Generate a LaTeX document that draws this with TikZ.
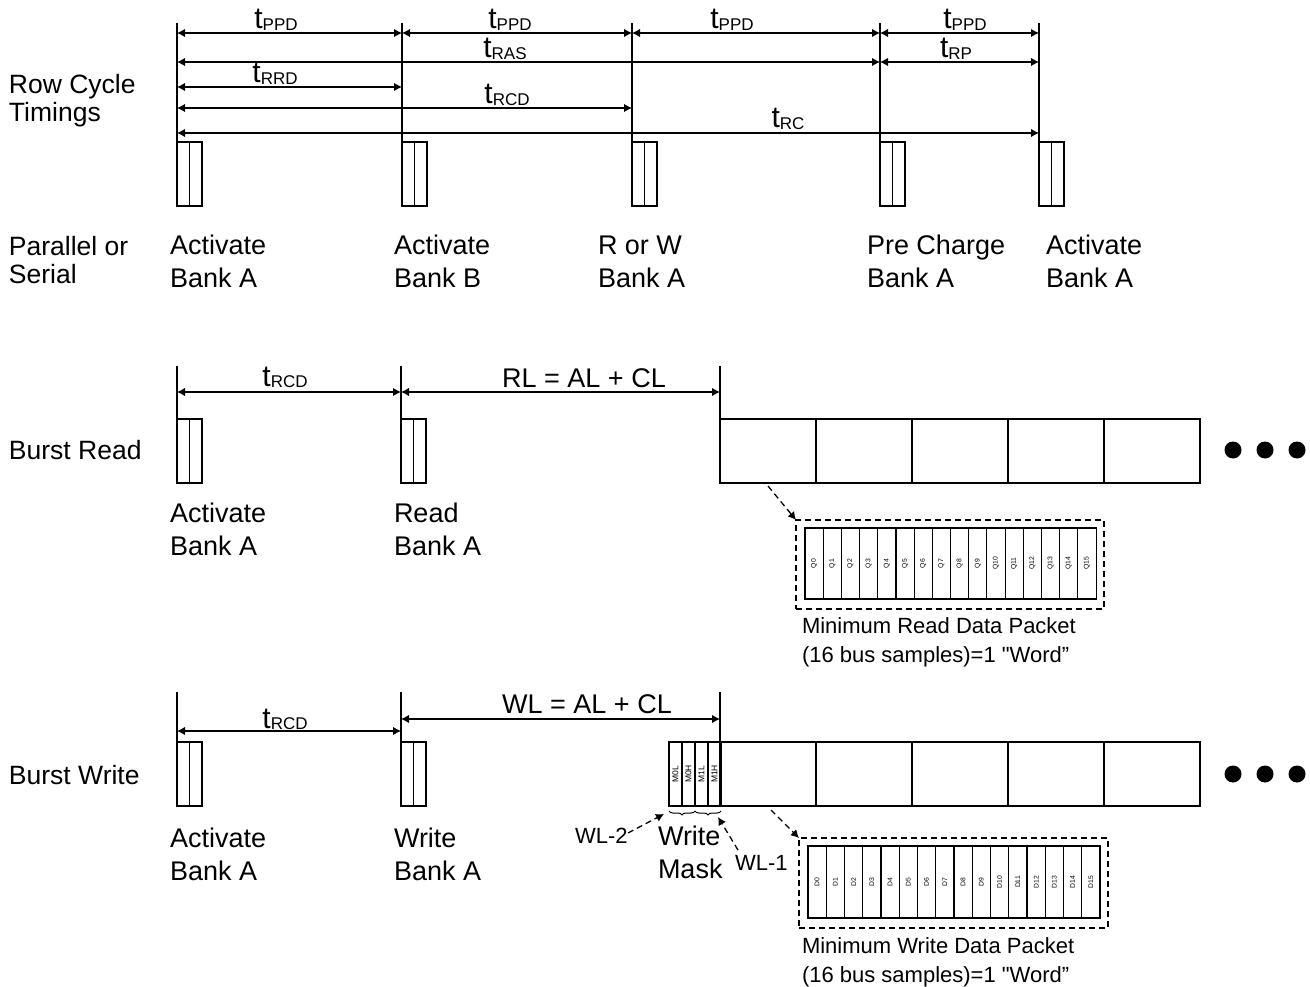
\documentclass[tikz,border=0pt]{standalone}
\usepackage{fontspec}
\setmainfont{Liberation Sans}
\newfontfamily\qf{Liberation Sans}
\usetikzlibrary{arrows.meta,decorations.pathreplacing}
\newcommand{\tsb}[1]{{\fontsize{30}{30}\selectfont t}\raisebox{-1.5pt}{\fontsize{17}{17}\selectfont #1}}
\newcommand{\sq}{{\qf"}}
\begin{document}
\begin{tikzpicture}[x=1pt,y=-1pt,
 every node/.style={inner sep=0pt,outer sep=0pt},
 biglab/.style={font=\fontsize{27}{33}\selectfont, align=left, anchor=north west},
 sidelab/.style={font=\fontsize{26.5}{28}\selectfont, align=left, anchor=north west},
 tlab/.style={font=\fontsize{27}{27}\selectfont, anchor=base},
 captlab/.style={font=\fontsize{22}{29}\selectfont, align=left, anchor=north west},
 smalllab/.style={font=\fontsize{22}{22}\selectfont, anchor=base west},
 vl/.style={line width=1.2pt},
 dim/.style={line width=1.2pt,{Latex[length=8pt,width=8.5pt]}-{Latex[length=8pt,width=8.5pt]}},
 cmdbox/.style={draw,line width=1.2pt,minimum width=25pt,minimum height=64pt,anchor=north west},
 databox/.style={draw,line width=1.2pt,minimum width=96pt,minimum height=64pt,anchor=north west},
 maskcell/.style={draw,line width=1.2pt,minimum width=13pt,minimum height=64pt,anchor=north west},
 pktcell/.style={draw,line width=1.1pt,anchor=north west},
 pktframe/.style={draw,line width=1.3pt,dash pattern=on 6pt off 4pt,anchor=north west},
 darrow/.style={line width=1.3pt,dash pattern=on 6pt off 4pt,-{Latex[length=8pt,width=8.5pt]}},
 celltxt/.style={rotate=90,font=\fontsize{6.8}{6.8}\selectfont},
 masktxt/.style={rotate=90,font=\fontsize{8.5}{8.5}\selectfont},
 blackdot/.style={circle,fill=black,minimum size=17pt},
]
\useasboundingbox (0,0) rectangle (1310,987);

% ================= Row cycle timings =================
\node[sidelab] (rct) at (9,74) {Row Cycle\\Timings};
\node[sidelab] (pos) at (9,236) {Parallel or\\Serial};

\foreach \n/\x in {1/177,2/402,3/632,4/880,5/1039}{
  \coordinate (v\n) at (\x,23);
  \node[cmdbox] (c\n) at (\x,142) {};
  \draw[vl] (c\n.north) -- (c\n.south);
  \draw[vl] (v\n) -- (c\n.north west);
}

\draw[dim] (v1 |- 0,33) -- (v2 |- 0,33);
\draw[dim] (v2 |- 0,33) -- (v3 |- 0,33);
\draw[dim] (v3 |- 0,33) -- (v4 |- 0,33);
\draw[dim] (v4 |- 0,33) -- (v5 |- 0,33);
\draw[dim] (v1 |- 0,62) -- (v4 |- 0,62);
\draw[dim] (v4 |- 0,62) -- (v5 |- 0,62);
\draw[dim] (v1 |- 0,87) -- (v2 |- 0,87);
\draw[dim] (v1 |- 0,108) -- (v3 |- 0,108);
\draw[dim] (v1 |- 0,133) -- (v5 |- 0,133);

\node[tlab] (tp1) at (276,29) {\tsb{PPD}};
\node[tlab] (tp2) at (510,29) {\tsb{PPD}};
\node[tlab] (tp3) at (732,29) {\tsb{PPD}};
\node[tlab] (tp4) at (965,29) {\tsb{PPD}};
\node[tlab] (tras) at (505,58) {\tsb{RAS}};
\node[tlab] (trp) at (956,58) {\tsb{RP}};
\node[tlab] (trrd) at (275,83) {\tsb{RRD}};
\node[tlab] (trcd) at (507,104) {\tsb{RCD}};
\node[tlab] (trc) at (788,128) {\tsb{RC}};

\node[biglab] (l1) at (170,234.5) {Activate\\Bank A};
\node[biglab] (l2) at (394,234.5) {Activate\\Bank B};
\node[biglab] (l3) at (598,236) {R or W\\Bank A};
\node[biglab] (l4) at (867,234.5) {Pre Charge\\Bank A};
\node[biglab] (l5) at (1046,234.5) {Activate\\Bank A};

% ================= Burst read =================
\node[sidelab,anchor=base west] (brd) at (9,459) {Burst Read};
\foreach \n/\x in {1/177,2/401,3/720}{
  \coordinate (r\n) at (\x,366);
}
\node[cmdbox] (rc1) at (177,419) {};
\node[cmdbox] (rc2) at (401,419) {};
\draw[vl] (rc1.north) -- (rc1.south);
\draw[vl] (rc2.north) -- (rc2.south);
\foreach \i in {0,...,4}{
  \node[databox] (rdb\i) at ({720+96*\i},419) {};
}
\draw[vl] (r1) -- (rc1.north west);
\draw[vl] (r2) -- (rc2.north west);
\draw[vl] (r3) -- (rdb0.north west);
\draw[dim] (r1 |- 0,392) -- (r2 |- 0,392);
\draw[dim] (r2 |- 0,392) -- (r3 |- 0,392);
\node[tlab] (rtrcd) at (285,386) {\tsb{RCD}};
\node[tlab] (rl) at (584,387) {RL = AL + CL};
\node[blackdot] (rd1) at (1233,450) {};
\node[blackdot] (rd2) at (1265,450) {};
\node[blackdot] (rd3) at (1297,450) {};
\node[biglab] (rl1) at (170,502.5) {Activate\\Bank A};
\node[biglab] (rl2) at (394,502.5) {Read\\Bank A};

\node[pktframe,minimum width=308pt,minimum height=89pt] (rframe) at (796,520) {};
\foreach \i in {0,...,15}{
  \node[pktcell,minimum width=18.19pt,minimum height=71pt] (q\i) at ({805+18.19*\i},528) {};
  \node[celltxt] at (q\i.center) {Q\i};
}
\coordinate (rs) at (768,486);
\draw[darrow] (rs) -- (rframe.north west);
\node[captlab] (rcap) at (802,618) {Minimum Read Data Packet\\(16 bus samples)=1 \sq Word”};

% ================= Burst write =================
\node[sidelab,anchor=base west] (bwr) at (9,784) {Burst Write};
\foreach \n/\x in {1/177,2/401,3/720}{
  \coordinate (w\n) at (\x,692);
}
\node[cmdbox] (wc1) at (177,742) {};
\node[cmdbox] (wc2) at (401,742) {};
\draw[vl] (wc1.north) -- (wc1.south);
\draw[vl] (wc2.north) -- (wc2.south);
\foreach \i/\t in {0/M0L,1/M0H,2/M1L,3/M1H}{
  \node[maskcell] (m\i) at ({669+13*\i},742) {};
  \node[masktxt] at (m\i.center) {\t};
}
\foreach \i in {0,...,4}{
  \node[databox] (wdb\i) at ({720+96*\i},742) {};
}
\draw[vl] (w1) -- (wc1.north west);
\draw[vl] (w2) -- (wc2.north west);
\draw[vl] (w3) -- (wdb0.north west);
\draw[dim] (w1 |- 0,731) -- (w2 |- 0,731);
\draw[dim] (w2 |- 0,719) -- (w3 |- 0,719);
\node[tlab] (wtrcd) at (285,728) {\tsb{RCD}};
\node[tlab] (wl) at (587,713) {WL = AL + CL};
\node[blackdot] (wd1) at (1233,774) {};
\node[blackdot] (wd2) at (1265,774) {};
\node[blackdot] (wd3) at (1297,774) {};
\node[biglab] (wl1) at (170,827.5) {Activate\\Bank A};
\node[biglab] (wl2) at (394,827.5) {Write\\Bank A};
\node[biglab] (wmask) at (658,825.5) {Write\\Mask};

\draw[line width=1pt,decorate,decoration={brace,amplitude=4pt}] (695,811) -- (669,811);
\draw[line width=1pt,decorate,decoration={brace,amplitude=4pt}] (721,811) -- (695,811);

\node[smalllab] (wl2lab) at (575,843) {WL-2};
\node[smalllab] (wl1lab) at (735,870) {WL-1};
\coordinate (wl2t) at (664,814);
\coordinate (wl1t) at (718,817);
\coordinate (wl2s) at (628,833);
\coordinate (wl1s) at (738,850);
\draw[darrow] (wl2s) -- (wl2t);
\draw[darrow] (wl1s) -- (wl1t);

\node[pktframe,minimum width=309pt,minimum height=90pt] (wframe) at (799,838) {};
\foreach \i in {0,...,15}{
  \node[pktcell,minimum width=18.25pt,minimum height=72pt] (d\i) at ({808+18.25*\i},846) {};
  \node[celltxt] at (d\i.center) {D\i};
}
\coordinate (ws) at (771,810);
\draw[darrow] (ws) -- (wframe.north west);
\node[captlab] (wcap) at (802,938) {Minimum Write Data Packet\\(16 bus samples)=1 \sq Word”};
\end{tikzpicture}
\end{document}
